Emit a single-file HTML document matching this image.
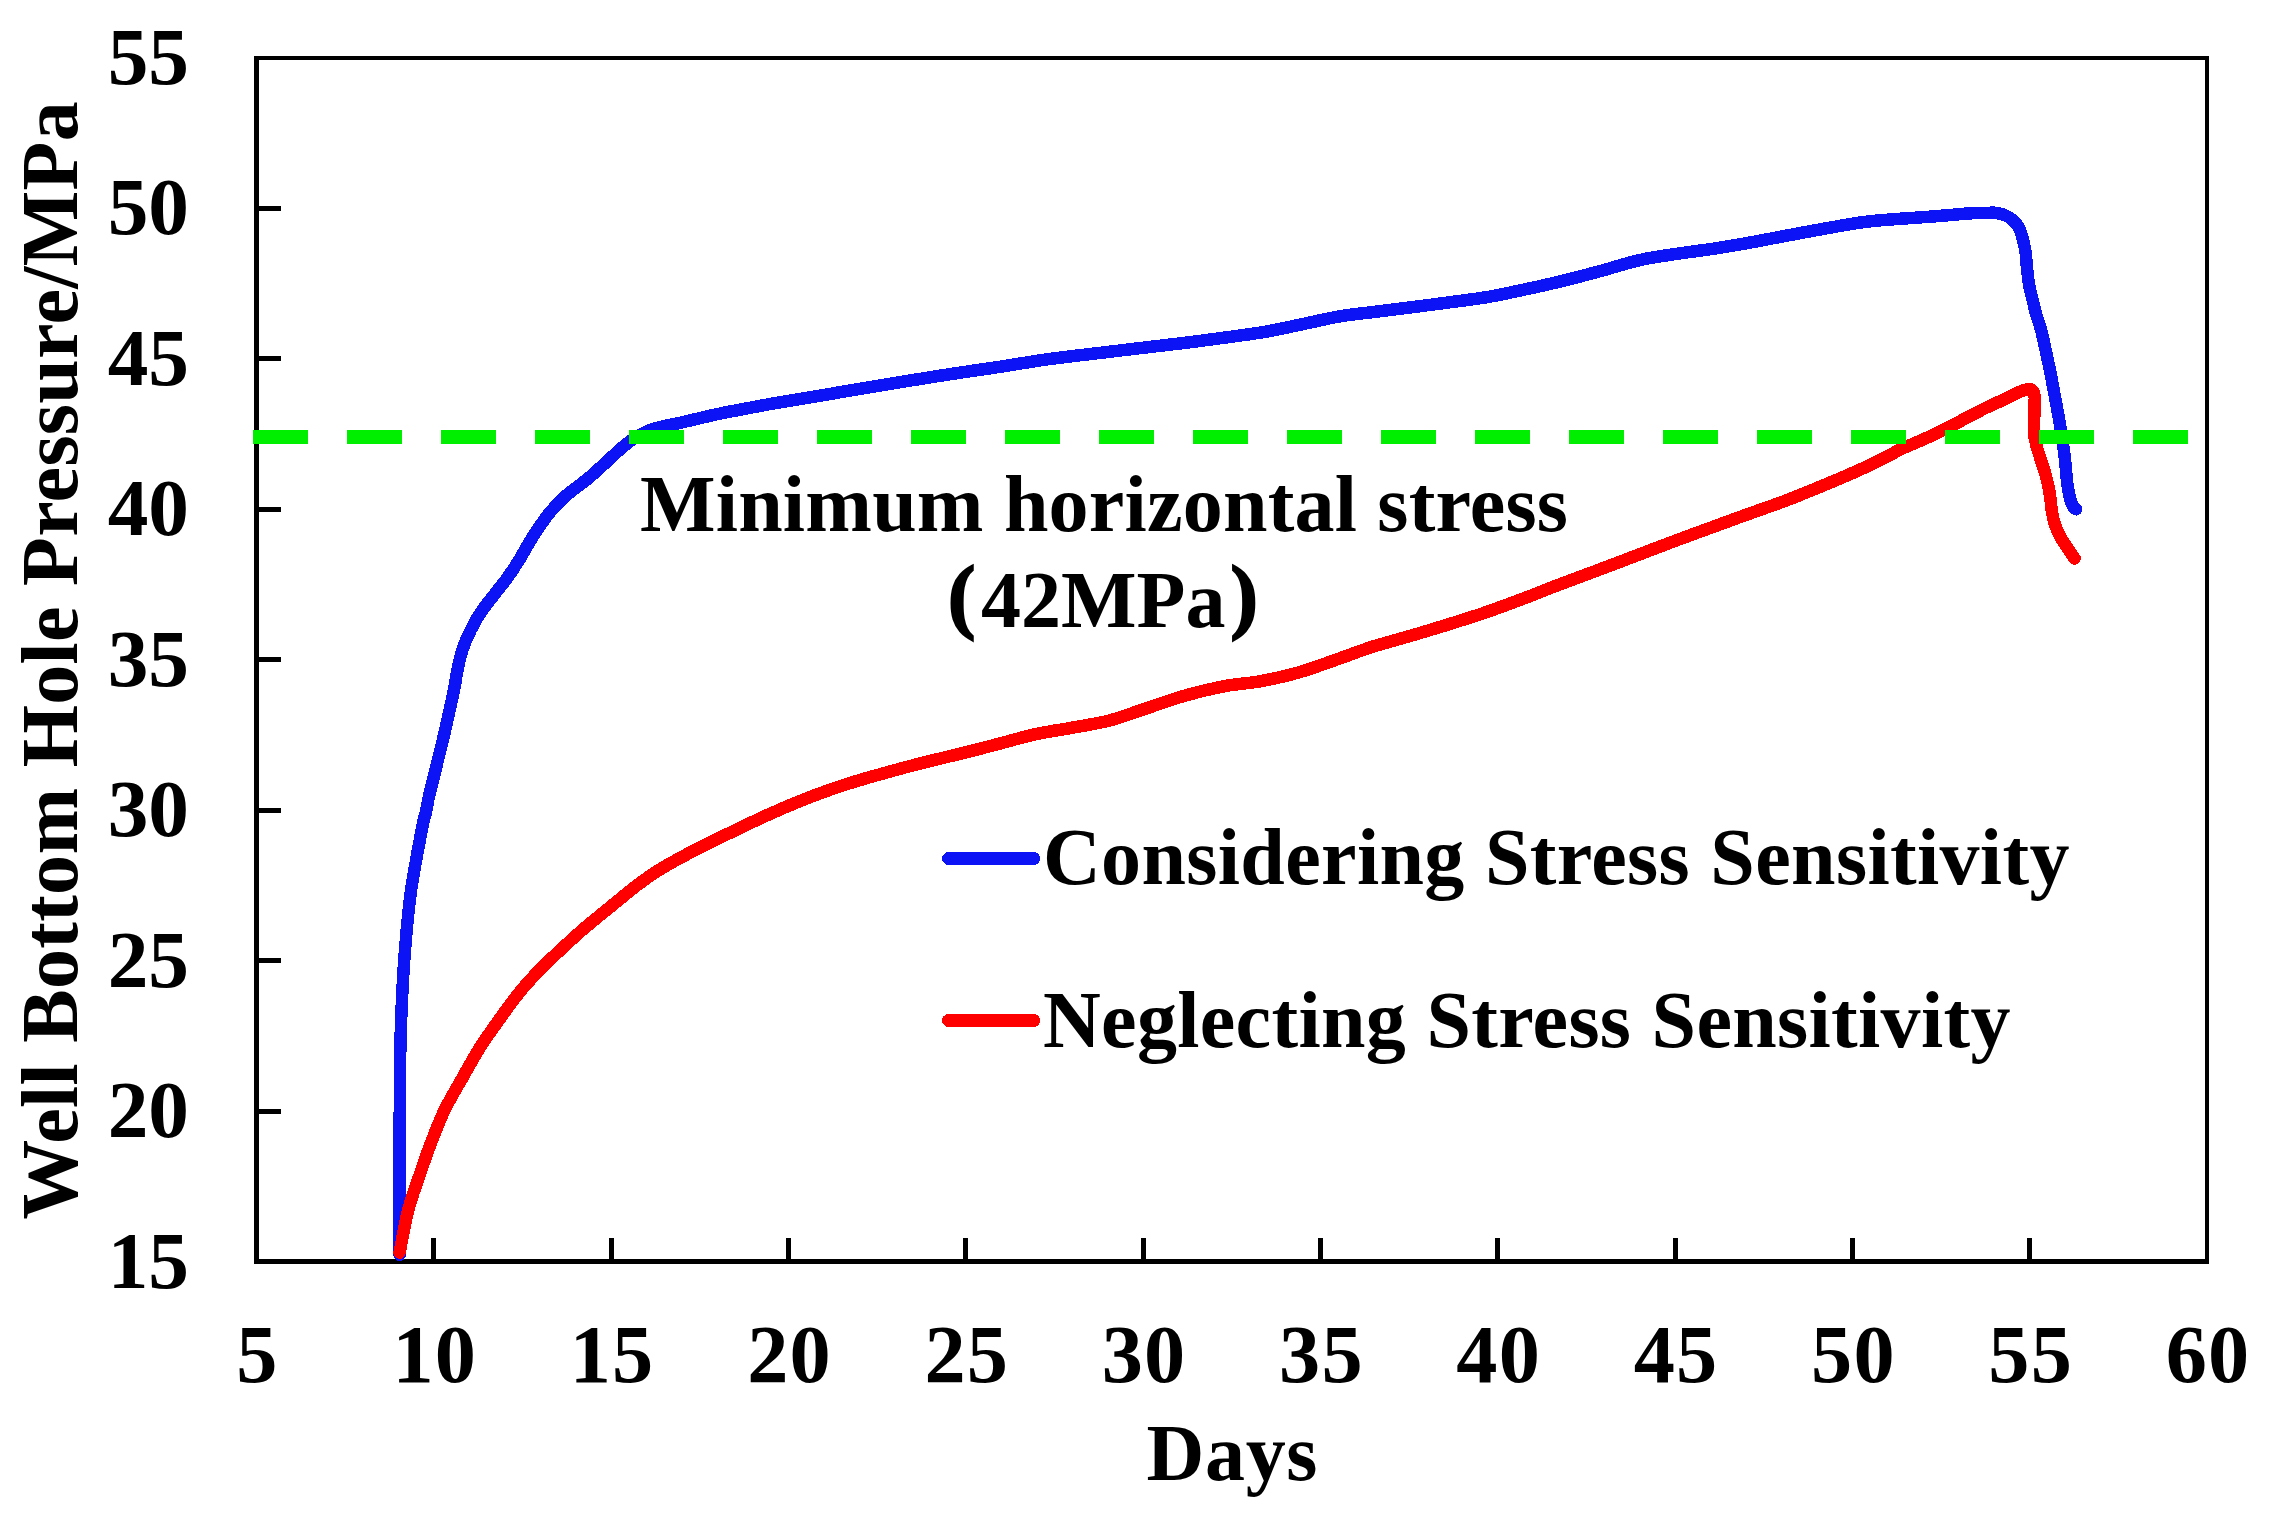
<!DOCTYPE html>
<html lang="en"><head><meta charset="utf-8"><title>Well Bottom Hole Pressure</title>
<style>
html,body{margin:0;padding:0;background:#fff;}
body{width:2270px;height:1520px;overflow:hidden;}
svg{display:block;}
text{font-family:'Liberation Serif','Times New Roman',Times,serif;font-weight:bold; fill:#000;}
</style></head><body>
<svg width="2270" height="1520" viewBox="0 0 2270 1520">
<rect width="2270" height="1520" fill="#fff"/>

<g fill="#000">
<rect x="257" y="1109" width="24" height="5"/>
<rect x="257" y="958" width="24" height="5"/>
<rect x="257" y="808" width="24" height="5"/>
<rect x="257" y="657" width="24" height="5"/>
<rect x="257" y="507" width="24" height="5"/>
<rect x="257" y="356" width="24" height="5"/>
<rect x="257" y="206" width="24" height="5"/>
<rect x="431.0" y="1238" width="5" height="23"/>
<rect x="609.0" y="1238" width="5" height="23"/>
<rect x="786.0" y="1238" width="5" height="23"/>
<rect x="963.0" y="1238" width="5" height="23"/>
<rect x="1141.0" y="1238" width="5" height="23"/>
<rect x="1318.0" y="1238" width="5" height="23"/>
<rect x="1495.0" y="1238" width="5" height="23"/>
<rect x="1673.0" y="1238" width="5" height="23"/>
<rect x="1850.0" y="1238" width="5" height="23"/>
<rect x="2027.0" y="1238" width="5" height="23"/>
</g>
<g fill="#000"><rect x="254" y="56" width="5" height="1208"/><rect x="254" y="56" width="1955" height="4"/><rect x="2205" y="56" width="4" height="1208"/><rect x="254" y="1259" width="1955" height="5"/></g>
<path d="M399.6,1254.8C399.6,1245.7 399.6,1225.8 399.6,1200.0C399.6,1174.2 399.7,1125.0 399.8,1100.0C399.9,1075.0 400.0,1064.3 400.3,1050.0C400.6,1035.7 400.8,1028.8 401.4,1014.0C402.0,999.1 402.7,980.9 404.2,960.9C405.7,940.9 407.6,916.2 410.6,893.9C413.6,871.6 419.8,840.3 422.3,827.0C424.8,813.7 424.3,819.4 425.5,814.0C426.7,808.6 428.0,800.5 429.4,794.4C430.8,788.3 432.2,783.2 433.6,777.6C435.0,772.0 436.3,766.5 437.7,760.9C439.1,755.3 440.5,749.7 441.9,744.1C443.2,738.5 444.5,733.0 445.8,727.4C447.1,721.8 448.2,716.4 449.5,710.7C450.8,705.0 452.4,697.5 453.4,693.0C454.3,688.5 454.4,687.9 455.2,683.4C456.0,678.9 457.0,671.6 458.3,665.7C459.6,659.8 461.0,654.0 463.0,648.1C465.0,642.2 467.6,636.4 470.5,630.5C473.4,624.6 476.5,618.8 480.4,612.9C484.3,607.0 489.3,601.1 493.8,595.2C498.3,589.3 503.3,583.5 507.5,577.6C511.7,571.7 515.1,566.6 519.2,560.0C523.3,553.4 527.0,545.8 532.0,538.0C537.0,530.2 543.5,520.3 549.2,513.3C554.9,506.2 559.5,501.6 566.0,495.7C572.5,489.8 581.5,484.0 588.5,478.1C595.5,472.2 602.4,465.6 608.0,460.5C613.6,455.4 618.1,451.0 622.4,447.3C626.7,443.6 629.8,441.2 634.0,438.5C638.2,435.8 642.7,433.1 647.8,431.0C652.9,428.9 659.1,427.4 664.6,426.0C670.1,424.6 672.4,424.5 681.0,422.6C689.6,420.7 706.4,416.5 716.2,414.4C726.0,412.2 729.9,411.6 740.0,409.7C750.1,407.8 764.5,405.0 777.0,402.8C789.5,400.6 802.5,398.6 815.0,396.5C827.5,394.4 839.5,392.3 852.0,390.2C864.5,388.1 877.5,386.0 890.0,383.9C902.5,381.8 914.5,379.8 927.0,377.8C939.5,375.8 952.8,373.7 965.0,371.9C977.2,370.1 987.5,368.7 1000.0,366.8C1012.5,364.9 1027.2,362.3 1040.0,360.4C1052.8,358.5 1064.5,357.2 1077.0,355.6C1089.5,354.1 1102.5,352.6 1115.0,351.1C1127.5,349.6 1139.5,348.2 1152.0,346.7C1164.5,345.2 1177.5,343.8 1190.0,342.2C1202.5,340.6 1214.5,339.0 1227.0,337.3C1239.5,335.6 1252.5,334.0 1265.0,331.8C1277.5,329.6 1289.5,326.9 1302.0,324.3C1314.5,321.7 1327.5,318.4 1340.0,316.3C1352.5,314.2 1364.5,313.2 1377.0,311.6C1389.5,310.0 1402.5,308.4 1415.0,306.8C1427.5,305.2 1439.5,303.7 1452.0,302.0C1464.5,300.3 1477.5,298.8 1490.0,296.6C1502.5,294.4 1514.5,291.7 1527.0,289.0C1539.5,286.3 1552.5,283.4 1565.0,280.3C1577.5,277.2 1589.5,274.0 1602.0,270.6C1614.5,267.2 1627.5,262.8 1640.0,260.0C1652.5,257.2 1664.5,255.7 1677.0,253.8C1689.5,251.9 1702.5,250.4 1715.0,248.5C1727.5,246.6 1739.5,244.4 1752.0,242.2C1764.5,239.9 1777.5,237.3 1790.0,235.0C1802.5,232.7 1814.5,230.4 1827.0,228.2C1839.5,226.0 1852.8,223.5 1865.0,221.9C1877.2,220.3 1888.3,219.7 1900.0,218.8C1911.7,217.9 1923.5,217.2 1935.2,216.3C1947.0,215.4 1961.7,213.9 1970.5,213.3C1979.3,212.7 1983.7,212.9 1988.1,212.8C1992.5,212.8 1993.6,212.4 1996.9,213.0C2000.2,213.6 2004.6,214.8 2007.9,216.6C2011.2,218.4 2014.5,221.4 2016.7,224.1C2018.9,226.8 2019.7,228.5 2021.1,232.9C2022.5,237.3 2024.3,244.6 2025.3,250.5C2026.3,256.4 2026.3,262.2 2027.0,268.1C2027.7,274.0 2028.2,279.8 2029.3,285.7C2030.4,291.6 2032.4,298.8 2033.5,303.3C2034.6,307.9 2034.6,308.7 2035.8,313.0C2037.0,317.3 2039.2,322.8 2040.9,329.2C2042.6,335.6 2044.3,343.9 2045.9,351.3C2047.5,358.7 2049.1,366.0 2050.6,373.4C2052.1,380.8 2053.3,388.1 2054.7,395.5C2056.1,402.9 2057.5,410.2 2058.8,417.6C2060.1,425.0 2061.3,432.3 2062.4,439.7C2063.5,447.1 2064.4,454.4 2065.2,461.8C2066.0,469.2 2066.5,477.9 2067.3,483.9C2068.1,489.9 2069.0,494.0 2069.9,497.7C2070.8,501.4 2071.7,504.1 2072.7,506.0C2073.7,507.9 2075.4,508.8 2076.0,509.3" fill="none" stroke="#0c14f5" stroke-width="12.5" stroke-linejoin="round" stroke-linecap="round" shape-rendering="crispEdges"/>
<path d="M399.6,1252.7C401.0,1245.7 404.8,1223.5 408.0,1210.9C411.2,1198.4 415.0,1188.6 418.8,1177.4C422.6,1166.2 426.3,1155.1 430.6,1143.9C434.9,1132.7 439.0,1121.6 444.4,1110.4C449.8,1099.2 457.0,1087.5 462.9,1077.0C468.8,1066.5 473.8,1057.2 480.0,1047.4C486.2,1037.7 493.4,1027.7 500.0,1018.5C506.6,1009.3 512.9,1000.4 519.6,992.2C526.3,984.0 533.4,976.4 540.0,969.5C546.6,962.6 552.6,957.2 559.3,951.0C566.0,944.8 573.4,937.8 580.0,932.0C586.6,926.2 592.2,921.7 598.9,916.2C605.6,910.7 613.4,904.4 620.0,899.0C626.6,893.6 631.9,889.0 638.6,884.1C645.3,879.2 650.3,875.2 660.0,869.4C669.7,863.5 684.5,855.5 697.0,849.0C709.5,842.5 722.5,836.4 735.0,830.4C747.5,824.4 759.5,818.5 772.0,813.0C784.5,807.5 797.5,801.9 810.0,797.1C822.5,792.3 834.5,788.0 847.0,784.0C859.5,780.0 872.5,776.4 885.0,772.9C897.5,769.4 909.5,766.2 922.0,763.0C934.5,759.8 947.4,756.9 960.0,753.8C972.6,750.7 984.9,747.5 997.4,744.2C1009.9,741.0 1022.5,737.0 1035.0,734.3C1047.5,731.5 1059.8,730.0 1072.3,727.7C1084.8,725.4 1097.9,723.5 1110.0,720.4C1122.1,717.2 1132.5,712.9 1145.0,708.8C1157.5,704.7 1171.8,699.4 1185.0,695.6C1198.2,691.8 1211.8,688.6 1224.3,686.2C1236.8,683.8 1247.8,683.5 1260.0,681.3C1272.2,679.1 1284.9,676.3 1297.4,672.8C1309.9,669.3 1322.5,664.4 1335.0,660.1C1347.5,655.8 1359.8,650.8 1372.3,646.8C1384.8,642.8 1397.5,639.7 1410.0,636.0C1422.5,632.3 1434.9,628.6 1447.4,624.7C1459.9,620.8 1472.5,616.9 1485.0,612.6C1497.5,608.3 1510.0,603.6 1522.5,598.9C1535.0,594.2 1547.6,589.0 1560.0,584.3C1572.4,579.6 1584.5,575.2 1597.0,570.5C1609.5,565.8 1622.5,560.9 1635.0,556.1C1647.5,551.4 1659.5,546.7 1672.0,542.0C1684.5,537.3 1697.5,532.6 1710.0,528.0C1722.5,523.4 1734.5,519.0 1747.0,514.5C1759.5,510.0 1772.5,505.6 1785.0,500.9C1797.5,496.1 1809.5,491.2 1822.0,486.0C1834.5,480.8 1848.7,474.8 1860.0,469.7C1871.3,464.6 1883.3,458.5 1890.0,455.1C1896.7,451.7 1893.7,452.4 1900.0,449.5C1906.3,446.6 1918.8,441.6 1927.6,437.5C1936.4,433.4 1943.3,429.9 1952.9,425.0C1962.5,420.1 1976.3,412.6 1985.1,408.2C1993.9,403.8 2000.2,401.4 2005.7,398.8C2011.2,396.2 2014.3,394.1 2018.0,392.5C2021.7,390.9 2025.4,389.6 2027.8,389.2C2030.2,388.8 2031.1,389.2 2032.2,390.3C2033.3,391.4 2034.2,393.6 2034.6,396.0C2035.0,398.4 2034.6,402.3 2034.6,405.0C2034.6,407.7 2034.6,407.9 2034.5,412.3C2034.4,416.8 2033.6,426.2 2033.9,431.7C2034.2,437.1 2035.2,440.6 2036.3,445.0C2037.4,449.4 2038.9,453.8 2040.3,458.1C2041.7,462.4 2043.2,466.6 2044.5,471.0C2045.8,475.4 2047.0,480.1 2048.0,484.5C2049.0,488.9 2049.7,493.2 2050.3,497.7C2051.0,502.2 2051.1,506.9 2051.9,511.5C2052.7,516.1 2053.6,520.7 2055.2,525.3C2056.8,529.9 2059.1,534.7 2061.6,539.1C2064.1,543.5 2067.7,548.3 2069.9,551.5C2072.1,554.7 2073.8,557.3 2074.6,558.5" fill="none" stroke="#ff0000" stroke-width="12.5" stroke-linejoin="round" stroke-linecap="round" shape-rendering="crispEdges"/>
<g fill="#00ee00">
<rect x="253.0" y="430" width="55.0" height="14"/>
<rect x="347.0" y="430" width="55.0" height="14"/>
<rect x="441.0" y="430" width="55.0" height="14"/>
<rect x="535.0" y="430" width="55.0" height="14"/>
<rect x="629.0" y="430" width="55.0" height="14"/>
<rect x="723.0" y="430" width="55.0" height="14"/>
<rect x="817.0" y="430" width="55.0" height="14"/>
<rect x="911.0" y="430" width="55.0" height="14"/>
<rect x="1005.0" y="430" width="55.0" height="14"/>
<rect x="1099.0" y="430" width="55.0" height="14"/>
<rect x="1193.0" y="430" width="55.0" height="14"/>
<rect x="1287.0" y="430" width="55.0" height="14"/>
<rect x="1381.0" y="430" width="55.0" height="14"/>
<rect x="1475.0" y="430" width="55.0" height="14"/>
<rect x="1569.0" y="430" width="55.0" height="14"/>
<rect x="1663.0" y="430" width="55.0" height="14"/>
<rect x="1757.0" y="430" width="55.0" height="14"/>
<rect x="1851.0" y="430" width="55.0" height="14"/>
<rect x="1945.0" y="430" width="55.0" height="14"/>
<rect x="2039.0" y="430" width="55.0" height="14"/>
<rect x="2133.0" y="430" width="55.0" height="14"/>
</g>
<line x1="948.6" y1="858.5" x2="1033.6" y2="858.5" stroke="#0c14f5" stroke-width="13" stroke-linecap="round" shape-rendering="crispEdges"/>
<line x1="948.6" y1="1020.5" x2="1033.6" y2="1020.5" stroke="#ff0000" stroke-width="13" stroke-linecap="round" shape-rendering="crispEdges"/>
<text x="189" y="1287.5" font-size="81.3" text-anchor="end">15</text>
<text x="189" y="1137.1" font-size="81.3" text-anchor="end">20</text>
<text x="189" y="986.6" font-size="81.3" text-anchor="end">25</text>
<text x="189" y="836.2" font-size="81.3" text-anchor="end">30</text>
<text x="189" y="685.8" font-size="81.3" text-anchor="end">35</text>
<text x="189" y="535.3" font-size="81.3" text-anchor="end">40</text>
<text x="189" y="384.9" font-size="81.3" text-anchor="end">45</text>
<text x="189" y="234.4" font-size="81.3" text-anchor="end">50</text>
<text x="189" y="84.0" font-size="81.3" text-anchor="end">55</text>
<text x="257.5" y="1382" font-size="82.3" text-anchor="middle" letter-spacing="1.2">5</text>
<text x="434.8" y="1382" font-size="82.3" text-anchor="middle" letter-spacing="1.2">10</text>
<text x="612.1" y="1382" font-size="82.3" text-anchor="middle" letter-spacing="1.2">15</text>
<text x="789.5" y="1382" font-size="82.3" text-anchor="middle" letter-spacing="1.2">20</text>
<text x="966.8" y="1382" font-size="82.3" text-anchor="middle" letter-spacing="1.2">25</text>
<text x="1144.1" y="1382" font-size="82.3" text-anchor="middle" letter-spacing="1.2">30</text>
<text x="1321.4" y="1382" font-size="82.3" text-anchor="middle" letter-spacing="1.2">35</text>
<text x="1498.7" y="1382" font-size="82.3" text-anchor="middle" letter-spacing="1.2">40</text>
<text x="1676.0" y="1382" font-size="82.3" text-anchor="middle" letter-spacing="1.2">45</text>
<text x="1853.4" y="1382" font-size="82.3" text-anchor="middle" letter-spacing="1.2">50</text>
<text x="2030.7" y="1382" font-size="82.3" text-anchor="middle" letter-spacing="1.2">55</text>
<text x="2208.0" y="1382" font-size="82.3" text-anchor="middle" letter-spacing="1.2">60</text>
<text x="1146.5" y="1480" font-size="80" textLength="171" lengthAdjust="spacing">Days</text>
<text transform="translate(77,660.5) rotate(-90)" font-size="80" text-anchor="middle" textLength="1118.5" lengthAdjust="spacing">Well Bottom Hole Pressure/MPa</text>
<text x="640" y="531" font-size="80" textLength="928" lengthAdjust="spacing">Minimum horizontal stress</text>
<text font-size="80"><tspan x="948" y="623" font-size="82" stroke="#000" stroke-width="2.2">(</tspan><tspan x="981" y="627">42MPa</tspan><tspan x="1230.6" y="623" font-size="82" stroke="#000" stroke-width="2.2">)</tspan></text>
<text x="1043" y="884" font-size="80" textLength="1026.4" lengthAdjust="spacing">Considering Stress Sensitivity</text>
<text x="1043" y="1047" font-size="80" textLength="967.4" lengthAdjust="spacing">Neglecting Stress Sensitivity</text>
</svg></body></html>
